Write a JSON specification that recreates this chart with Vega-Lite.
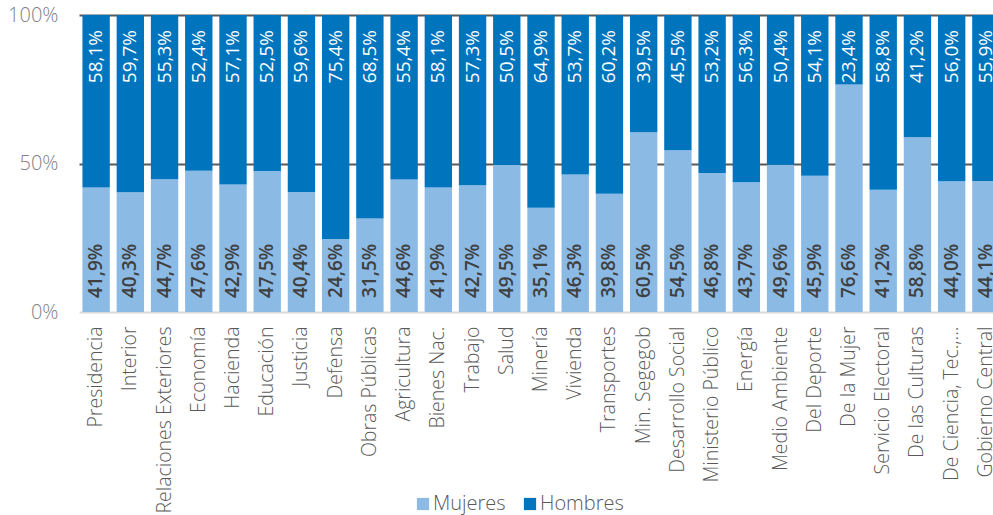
{
  "$schema": "https://vega.github.io/schema/vega-lite/v6.json",
  "autosize": {"type": "none"},
  "padding": {"left": 79, "top": 15, "right": 0, "bottom": 203},
  "width": 914,
  "height": 297,
  "background": "white",
  "config": {
    "view": {"stroke": null},
    "locale": {"number": {"decimal": ",", "thousands": ".", "grouping": [3], "currency": ["$", ""]}},
    "font": "Open Sans"
  },
  "data": {"values": [
    {"ministerio": "Presidencia", "genero": "Mujeres", "valor": 0.419},
    {"ministerio": "Presidencia", "genero": "Hombres", "valor": 0.581},
    {"ministerio": "Interior", "genero": "Mujeres", "valor": 0.403},
    {"ministerio": "Interior", "genero": "Hombres", "valor": 0.597},
    {"ministerio": "Relaciones Exteriores", "genero": "Mujeres", "valor": 0.447},
    {"ministerio": "Relaciones Exteriores", "genero": "Hombres", "valor": 0.553},
    {"ministerio": "Economía", "genero": "Mujeres", "valor": 0.476},
    {"ministerio": "Economía", "genero": "Hombres", "valor": 0.524},
    {"ministerio": "Hacienda", "genero": "Mujeres", "valor": 0.429},
    {"ministerio": "Hacienda", "genero": "Hombres", "valor": 0.571},
    {"ministerio": "Educación", "genero": "Mujeres", "valor": 0.475},
    {"ministerio": "Educación", "genero": "Hombres", "valor": 0.525},
    {"ministerio": "Justicia", "genero": "Mujeres", "valor": 0.404},
    {"ministerio": "Justicia", "genero": "Hombres", "valor": 0.596},
    {"ministerio": "Defensa", "genero": "Mujeres", "valor": 0.246},
    {"ministerio": "Defensa", "genero": "Hombres", "valor": 0.754},
    {"ministerio": "Obras Públicas", "genero": "Mujeres", "valor": 0.315},
    {"ministerio": "Obras Públicas", "genero": "Hombres", "valor": 0.685},
    {"ministerio": "Agricultura", "genero": "Mujeres", "valor": 0.446},
    {"ministerio": "Agricultura", "genero": "Hombres", "valor": 0.554},
    {"ministerio": "Bienes Nac.", "genero": "Mujeres", "valor": 0.419},
    {"ministerio": "Bienes Nac.", "genero": "Hombres", "valor": 0.581},
    {"ministerio": "Trabajo", "genero": "Mujeres", "valor": 0.427},
    {"ministerio": "Trabajo", "genero": "Hombres", "valor": 0.573},
    {"ministerio": "Salud", "genero": "Mujeres", "valor": 0.495},
    {"ministerio": "Salud", "genero": "Hombres", "valor": 0.505},
    {"ministerio": "Minería", "genero": "Mujeres", "valor": 0.351},
    {"ministerio": "Minería", "genero": "Hombres", "valor": 0.649},
    {"ministerio": "Vivienda", "genero": "Mujeres", "valor": 0.463},
    {"ministerio": "Vivienda", "genero": "Hombres", "valor": 0.537},
    {"ministerio": "Transportes", "genero": "Mujeres", "valor": 0.398},
    {"ministerio": "Transportes", "genero": "Hombres", "valor": 0.602},
    {"ministerio": "Min. Segegob", "genero": "Mujeres", "valor": 0.605},
    {"ministerio": "Min. Segegob", "genero": "Hombres", "valor": 0.395},
    {"ministerio": "Desarrollo Social", "genero": "Mujeres", "valor": 0.545},
    {"ministerio": "Desarrollo Social", "genero": "Hombres", "valor": 0.455},
    {"ministerio": "Ministerio Público", "genero": "Mujeres", "valor": 0.468},
    {"ministerio": "Ministerio Público", "genero": "Hombres", "valor": 0.532},
    {"ministerio": "Energía", "genero": "Mujeres", "valor": 0.437},
    {"ministerio": "Energía", "genero": "Hombres", "valor": 0.563},
    {"ministerio": "Medio Ambiente", "genero": "Mujeres", "valor": 0.496},
    {"ministerio": "Medio Ambiente", "genero": "Hombres", "valor": 0.504},
    {"ministerio": "Del Deporte", "genero": "Mujeres", "valor": 0.459},
    {"ministerio": "Del Deporte", "genero": "Hombres", "valor": 0.541},
    {"ministerio": "De la Mujer", "genero": "Mujeres", "valor": 0.766},
    {"ministerio": "De la Mujer", "genero": "Hombres", "valor": 0.234},
    {"ministerio": "Servicio Electoral", "genero": "Mujeres", "valor": 0.412},
    {"ministerio": "Servicio Electoral", "genero": "Hombres", "valor": 0.588},
    {"ministerio": "De las Culturas", "genero": "Mujeres", "valor": 0.588},
    {"ministerio": "De las Culturas", "genero": "Hombres", "valor": 0.412},
    {"ministerio": "De Ciencia, Tec.,...", "genero": "Mujeres", "valor": 0.440},
    {"ministerio": "De Ciencia, Tec.,...", "genero": "Hombres", "valor": 0.560},
    {"ministerio": "Gobierno Central", "genero": "Mujeres", "valor": 0.441},
    {"ministerio": "Gobierno Central", "genero": "Hombres", "valor": 0.559}
  ]},
  "encoding": {
    "x": {
      "field": "ministerio", "type": "nominal", "sort": null,
      "scale": {"range": [0, 924], "paddingInner": 0.2, "paddingOuter": 0.1},
      "axis": {
        "title": null, "ticks": false, "domain": false, "labelAngle": 270,
        "labelPadding": 14, "labelFontSize": 19.5, "labelFontWeight": 300,
        "labelColor": "#595959", "labelLimit": 300
      }
    }
  },
  "layer": [
    {
      "mark": {"type": "bar", "clip": true},
      "encoding": {
        "y": {
          "field": "valor", "type": "quantitative", "stack": "zero",
          "scale": {"domain": [0, 1], "nice": false},
          "axis": {
            "title": null, "values": [0, 0.5, 1], "format": ".0%",
            "ticks": false, "domain": false, "labelPadding": 21,
            "labelFontSize": 20, "labelFontWeight": 300, "labelColor": "#808080",
            "gridWidth": 2,
            "gridColor": {"condition": {"test": "datum.value === 0", "value": "#d9d9d9"}, "value": "#595959"}
          }
        },
        "color": {
          "field": "genero", "type": "nominal",
          "scale": {"domain": ["Mujeres", "Hombres"], "range": ["#8BBAE5", "#0075BE"]},
          "legend": {
            "title": null, "orient": "none", "legendX": 334, "legendY": 479,
            "direction": "horizontal", "symbolType": "square", "symbolSize": 150,
            "symbolStrokeWidth": 0, "labelFontSize": 20, "labelFontWeight": 300,
            "labelColor": "#595959", "columnPadding": 14, "labelOffset": 0
          }
        },
        "order": {"field": "genero", "sort": "descending"}
      }
    },
    {
      "transform": [{"filter": "datum.genero === 'Hombres'"}],
      "mark": {"type": "text", "clip": true, "angle": 270, "align": "right", "baseline": "middle", "dx": -15, "fontSize": 19, "color": "white"},
      "encoding": {
        "y": {"datum": 1, "type": "quantitative"},
        "text": {"field": "valor", "type": "quantitative", "format": ".1%"}
      }
    },
    {
      "transform": [{"filter": "datum.genero === 'Mujeres'"}],
      "mark": {"type": "text", "clip": true, "angle": 270, "align": "left", "baseline": "middle", "dx": 14, "fontSize": 19, "fontWeight": 600, "color": "#404040"},
      "encoding": {
        "y": {"datum": 0, "type": "quantitative"},
        "text": {"field": "valor", "type": "quantitative", "format": ".1%"}
      }
    }
  ]
}
